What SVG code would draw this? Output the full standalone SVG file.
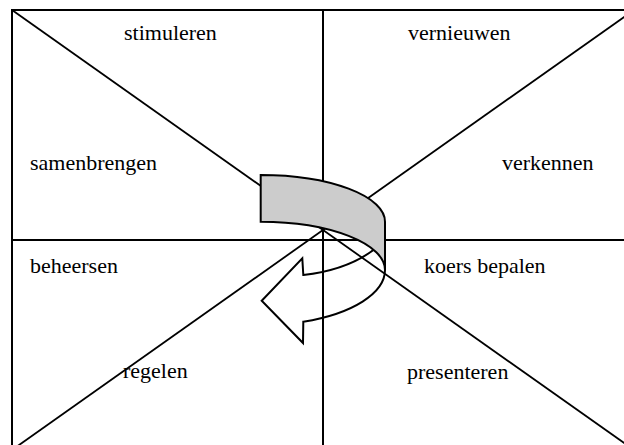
<svg xmlns="http://www.w3.org/2000/svg" width="624" height="445" viewBox="0 0 624 445">
<style>
.frame{fill:none;stroke:#000;stroke-width:2}
.axis{stroke:#000;stroke-width:2}
.diag{stroke:#000;stroke-width:1.8}
.lbl{font-family:"Liberation Serif","Times New Roman",serif;font-size:22px;fill:#000}
.ribbon{stroke:#000;stroke-width:2;stroke-linejoin:miter}
</style>
<rect width="624" height="445" fill="#fff"/>
<g id="grid">
<rect class="frame" x="12" y="10" width="622" height="440"/>
<line class="axis" x1="323" y1="10" x2="323" y2="450"/>
<line class="axis" x1="12" y1="240" x2="634" y2="240"/>
<line class="diag" x1="12" y1="10" x2="634" y2="450"/>
<line class="diag" x1="12" y1="450" x2="634" y2="10"/>
</g>
<g id="labels">
<text id="stimuleren" class="lbl" x="124" y="40">stimuleren</text>
<text id="vernieuwen" class="lbl" x="408" y="40">vernieuwen</text>
<text id="samenbrengen" class="lbl" x="30" y="170">samenbrengen</text>
<text id="verkennen" class="lbl" x="502" y="170">verkennen</text>
<text id="beheersen" class="lbl" x="30" y="273">beheersen</text>
<text id="koers-bepalen" class="lbl" x="424" y="273">koers bepalen</text>
<text id="regelen" class="lbl" x="123" y="378">regelen</text>
<text id="presenteren" class="lbl" x="407" y="379">presenteren</text>
</g>
<g id="arrow">
<path class="ribbon" fill="none" d="M303.3,275 C330,272 356,264 376,248 L385,238 L385,270 A124.3,55 0 0 1 303.3,321.7 L303,343 L261.7,300.7 L302.3,258.3 Z"/>
<path class="ribbon" fill="#cccccc" d="M260.7,175 A124.3,46.7 0 0 1 385,221.7 L385,270 A124.3,48.3 0 0 0 260.7,221.7 Z"/>
</g>
</svg>
